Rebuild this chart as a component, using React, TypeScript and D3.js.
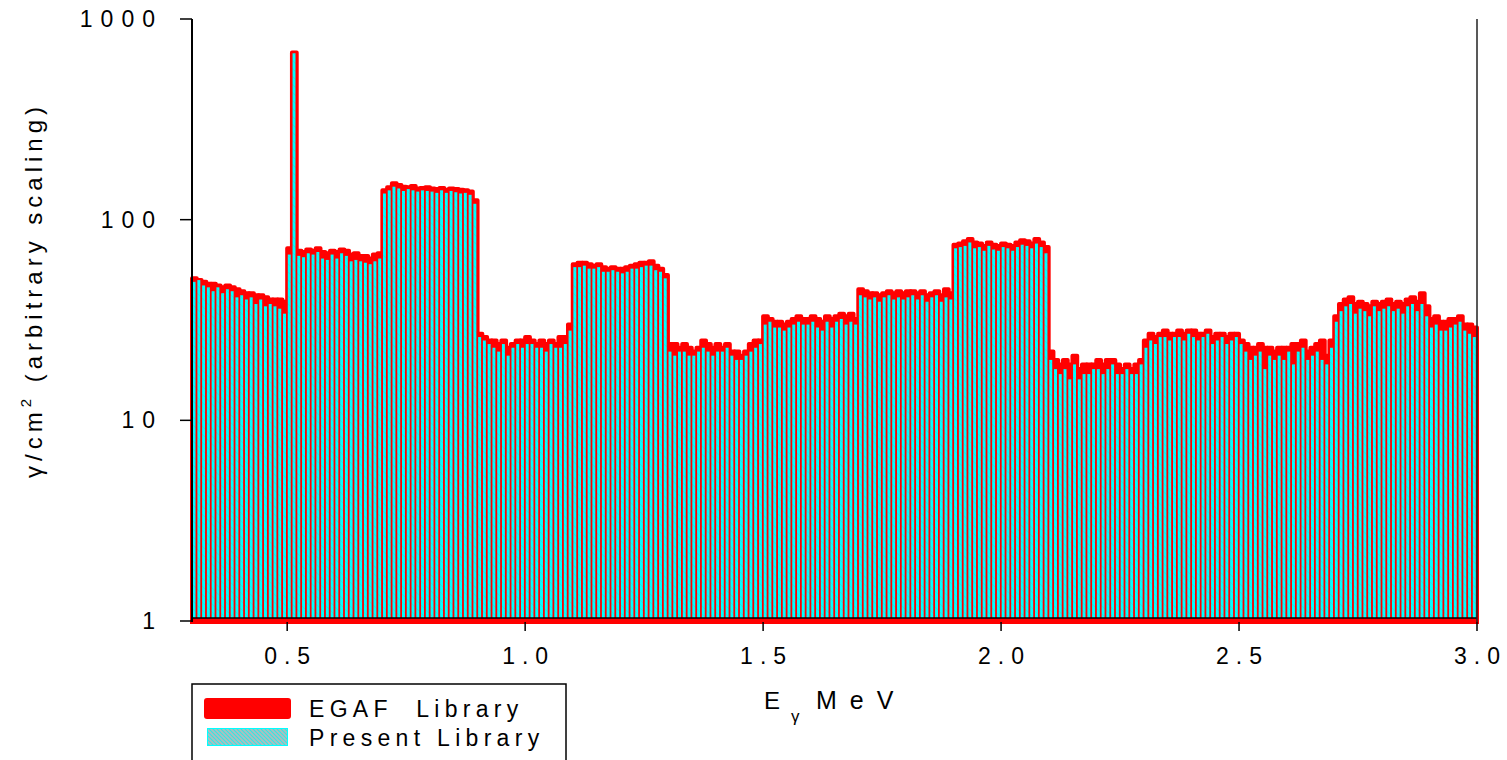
import React from 'react';
import * as d3 from 'd3';

// 10 keV bins starting at 0.30 MeV
const E_START = 0.3;
const BIN = 0.01;

// EGAF library, gamma/cm2 (arbitrary scaling), one value per bin, 0.30 - 2.99 MeV
const egaf = [
  51, 50, 49, 48, 48, 47, 46, 47, 46, 45,
  44, 43, 43, 42, 42, 41, 40, 40, 40, 39,
  72, 680, 70, 69, 71, 70, 72, 69, 68, 70,
  69, 71, 70, 67, 68, 66, 66, 64, 67, 68,
  140, 145, 152, 149, 146, 145, 147, 143, 144, 145,
  143, 142, 144, 141, 143, 142, 141, 140, 138, 125,
  27, 26, 25, 25, 24, 25, 23, 24, 25, 25,
  26, 25, 24, 25, 24, 25, 24, 26, 26, 30,
  60, 61, 61, 60, 59, 60, 58, 57, 58, 57,
  57, 58, 59, 60, 61, 61, 62, 59, 57, 53,
  24, 24, 23, 24, 23, 22, 23, 25, 24, 23,
  24, 23, 24, 22, 22, 21, 22, 24, 25, 25,
  33, 32, 31, 31, 30, 31, 32, 33, 32, 32,
  33, 32, 31, 33, 32, 33, 34, 33, 34, 32,
  45, 44, 43, 43, 42, 43, 44, 43, 44, 43,
  44, 44, 43, 44, 42, 43, 44, 42, 45, 43,
  75, 76, 78, 80, 77, 76, 74, 77, 75, 74,
  76, 75, 74, 77, 79, 78, 76, 80, 77, 73,
  22, 20, 19, 20, 19, 21, 18, 19, 19, 19,
  20, 19, 20, 20, 19, 18, 19, 18, 19, 20,
  25, 27, 26, 27, 28, 27, 27, 28, 27, 28,
  28, 27, 27, 28, 26, 27, 27, 26, 27, 27,
  25, 24, 23, 23, 24, 23, 23, 22, 23, 23,
  23, 24, 24, 25, 22, 23, 24, 25, 21, 25,
  33, 38, 40, 41, 38, 39, 38, 37, 39, 38,
  39, 40, 38, 39, 38, 40, 41, 39, 43, 37,
  32, 33, 31, 31, 32, 32, 33, 30, 30, 29,
];

// Present library, same bins
const present = [
  49, 50, 47, 46, 44, 46, 43, 45, 44, 41,
  42, 40, 41, 38, 40, 37, 38, 37, 36, 34,
  67, 675, 66, 65, 68, 67, 69, 64, 63, 67,
  64, 68, 66, 62, 63, 62, 61, 60, 62, 64,
  135, 140, 146, 143, 139, 142, 140, 138, 140, 139,
  138, 136, 140, 136, 139, 137, 135, 136, 133, 120,
  26, 25, 24, 23, 22, 24, 21, 23, 24, 23,
  24, 24, 23, 23, 22, 24, 23, 23, 24, 28,
  58, 58, 59, 57, 57, 58, 55, 55, 56, 55,
  54, 55, 57, 57, 58, 59, 59, 56, 55, 51,
  22, 21, 22, 22, 21, 21, 22, 23, 22, 21,
  22, 22, 23, 21, 20, 20, 21, 22, 23, 24,
  30, 31, 29, 29, 28, 29, 30, 31, 30, 30,
  31, 29, 28, 31, 29, 31, 32, 30, 31, 30,
  42, 41, 40, 41, 39, 41, 42, 40, 41, 40,
  41, 42, 40, 42, 39, 41, 42, 39, 41, 40,
  72, 73, 74, 77, 72, 73, 70, 74, 71, 70,
  73, 72, 70, 73, 75, 74, 72, 76, 73, 68,
  20, 18, 17, 18, 16, 19, 16, 17, 17, 18,
  18, 17, 18, 19, 17, 17, 18, 17, 17, 19,
  23, 25, 24, 26, 26, 25, 26, 26, 25, 27,
  26, 25, 26, 27, 24, 25, 26, 24, 25, 26,
  24, 22, 20, 21, 22, 18, 21, 20, 21, 20,
  22, 19, 22, 23, 20, 21, 22, 20, 19, 23,
  31, 35, 37, 38, 34, 36, 35, 33, 37, 35,
  36, 37, 35, 36, 34, 37, 38, 35, 38, 33,
  29, 30, 28, 28, 29, 30, 31, 28, 27, 26,
];

const xTicks = [0.5, 1.0, 1.5, 2.0, 2.5, 3.0];
const yTicks = [1, 10, 100, 1000];
const legendLabels = ['EGAF  Library', 'Present Library'];

const W = 1507;
const H = 760;
const FONT = '"Liberation Sans", Arial, sans-serif';

const App = () => {
  const x = d3.scaleLinear().domain([0.3, 3.0]).range([192, 1477]);
  const y = d3.scaleLog().domain([1, 1000]).range([621, 19]);
  const bins = egaf.map((v, i) => ({
    e0: E_START + i * BIN,
    e1: E_START + (i + 1) * BIN,
    egaf: v,
    present: present[i],
  }));
  const base = y(1);
  const fmt = d3.format('.1f');

  return (
    <svg
      width={W}
      height={H}
      style={{ position: 'absolute', left: 0, top: 0, background: '#fff' }}
      fontFamily={FONT}>
      <defs>
        <pattern id="barHatch" patternUnits="userSpaceOnUse" width={8} height={8}>
          <rect width={8} height={8} fill="#00ffff" />
          <path d="M0,0 L8,8" stroke="#40d0d0" strokeWidth={0.7} />
        </pattern>
        <pattern id="legHatch" patternUnits="userSpaceOnUse" width={4} height={4}>
          <rect width={4} height={4} fill="#b4bcbc" />
          <path d="M-1,-1 L5,5 M-1,3 L1,5 M3,-1 L5,1" stroke="#2ee8e8" strokeWidth={1.1} />
        </pattern>
      </defs>

      {/* EGAF bars */}
      <g>
        {bins.map((d, i) => (
          <rect
            key={`eg${i}`}
            x={x(d.e0)}
            y={y(d.egaf)}
            width={x(d.e1) - x(d.e0)}
            height={base - y(d.egaf)}
            fill="#ff0000"
            stroke="#ff0000"
            strokeWidth={4}
            strokeLinejoin="round"
          />
        ))}
      </g>

      {/* Present bars */}
      <g>
        {bins.map((d, i) => {
          const bw = x(d.e1) - x(d.e0);
          return (
            <rect
              key={`pr${i}`}
              x={x(d.e0) + 0.6}
              y={y(d.present)}
              width={bw * 0.62}
              height={base - 3 - y(d.present)}
              fill="url(#barHatch)"
            />
          );
        })}
      </g>

      {/* bottom band and axes */}
      <rect x={190} y={base - 2.5} width={1289} height={5.5} fill="#ff0000" />
      <line x1={192} x2={1477} y1={base - 3} y2={base - 3} stroke="#000" strokeWidth={1.5} />
      <line x1={192} x2={192} y1={19} y2={base + 1} stroke="#000" strokeWidth={2} />
      <line x1={1477} x2={1477} y1={19} y2={base + 1} stroke="#222" strokeWidth={1.5} />

      {yTicks.map(t => (
        <g key={`yt${t}`}>
          <line x1={180} x2={192} y1={y(t)} y2={y(t)} stroke="#000" strokeWidth={1.5} />
          <text
            x={155 + 8}
            y={y(t) + 8}
            textAnchor="end"
            fontSize={23}
            letterSpacing={8}
            fill="#000">
            {String(t)}
          </text>
        </g>
      ))}

      {xTicks.map(t => (
        <g key={`xt${t}`}>
          <line x1={x(t)} x2={x(t)} y1={base + 1} y2={base + 10} stroke="#000" strokeWidth={1.5} />
          <text
            x={x(t) + 3.5}
            y={664}
            textAnchor="middle"
            fontSize={23}
            letterSpacing={7}
            fill="#000">
            {fmt(t)}
          </text>
        </g>
      ))}

      {/* axis titles */}
      <text x={764} y={709} fontSize={24} fill="#000">E</text>
      <text x={791} y={722} fontSize={17} fill="#000">γ</text>
      <text x={816} y={709} fontSize={25} letterSpacing={13} fill="#000">MeV</text>

      <text
        transform="translate(42,290) rotate(-90)"
        textAnchor="middle"
        fontSize={24}
        letterSpacing={5}
        fill="#000">
        γ/cm<tspan fontSize={15} dy={-11}>2</tspan>
        <tspan dy={11}> (arbitrary scaling)</tspan>
      </text>

      {/* legend */}
      <rect x={192} y={684} width={374} height={90} fill="#fff" stroke="#000" strokeWidth={1.5} />
      <rect x={204} y={698} width={87} height={21} rx={3} fill="#ff0000" />
      <rect x={207.5} y={728.5} width={80} height={17} fill="url(#legHatch)" stroke="#00ffff" strokeWidth={1} />
      {legendLabels.map((l, i) => (
        <text
          key={l}
          x={309}
          y={717 + i * 29}
          fontSize={23}
          letterSpacing={5.3}
          style={{ whiteSpace: 'pre' }}
          fill="#000">
          {l}
        </text>
      ))}
    </svg>
  );
};

export default App;
